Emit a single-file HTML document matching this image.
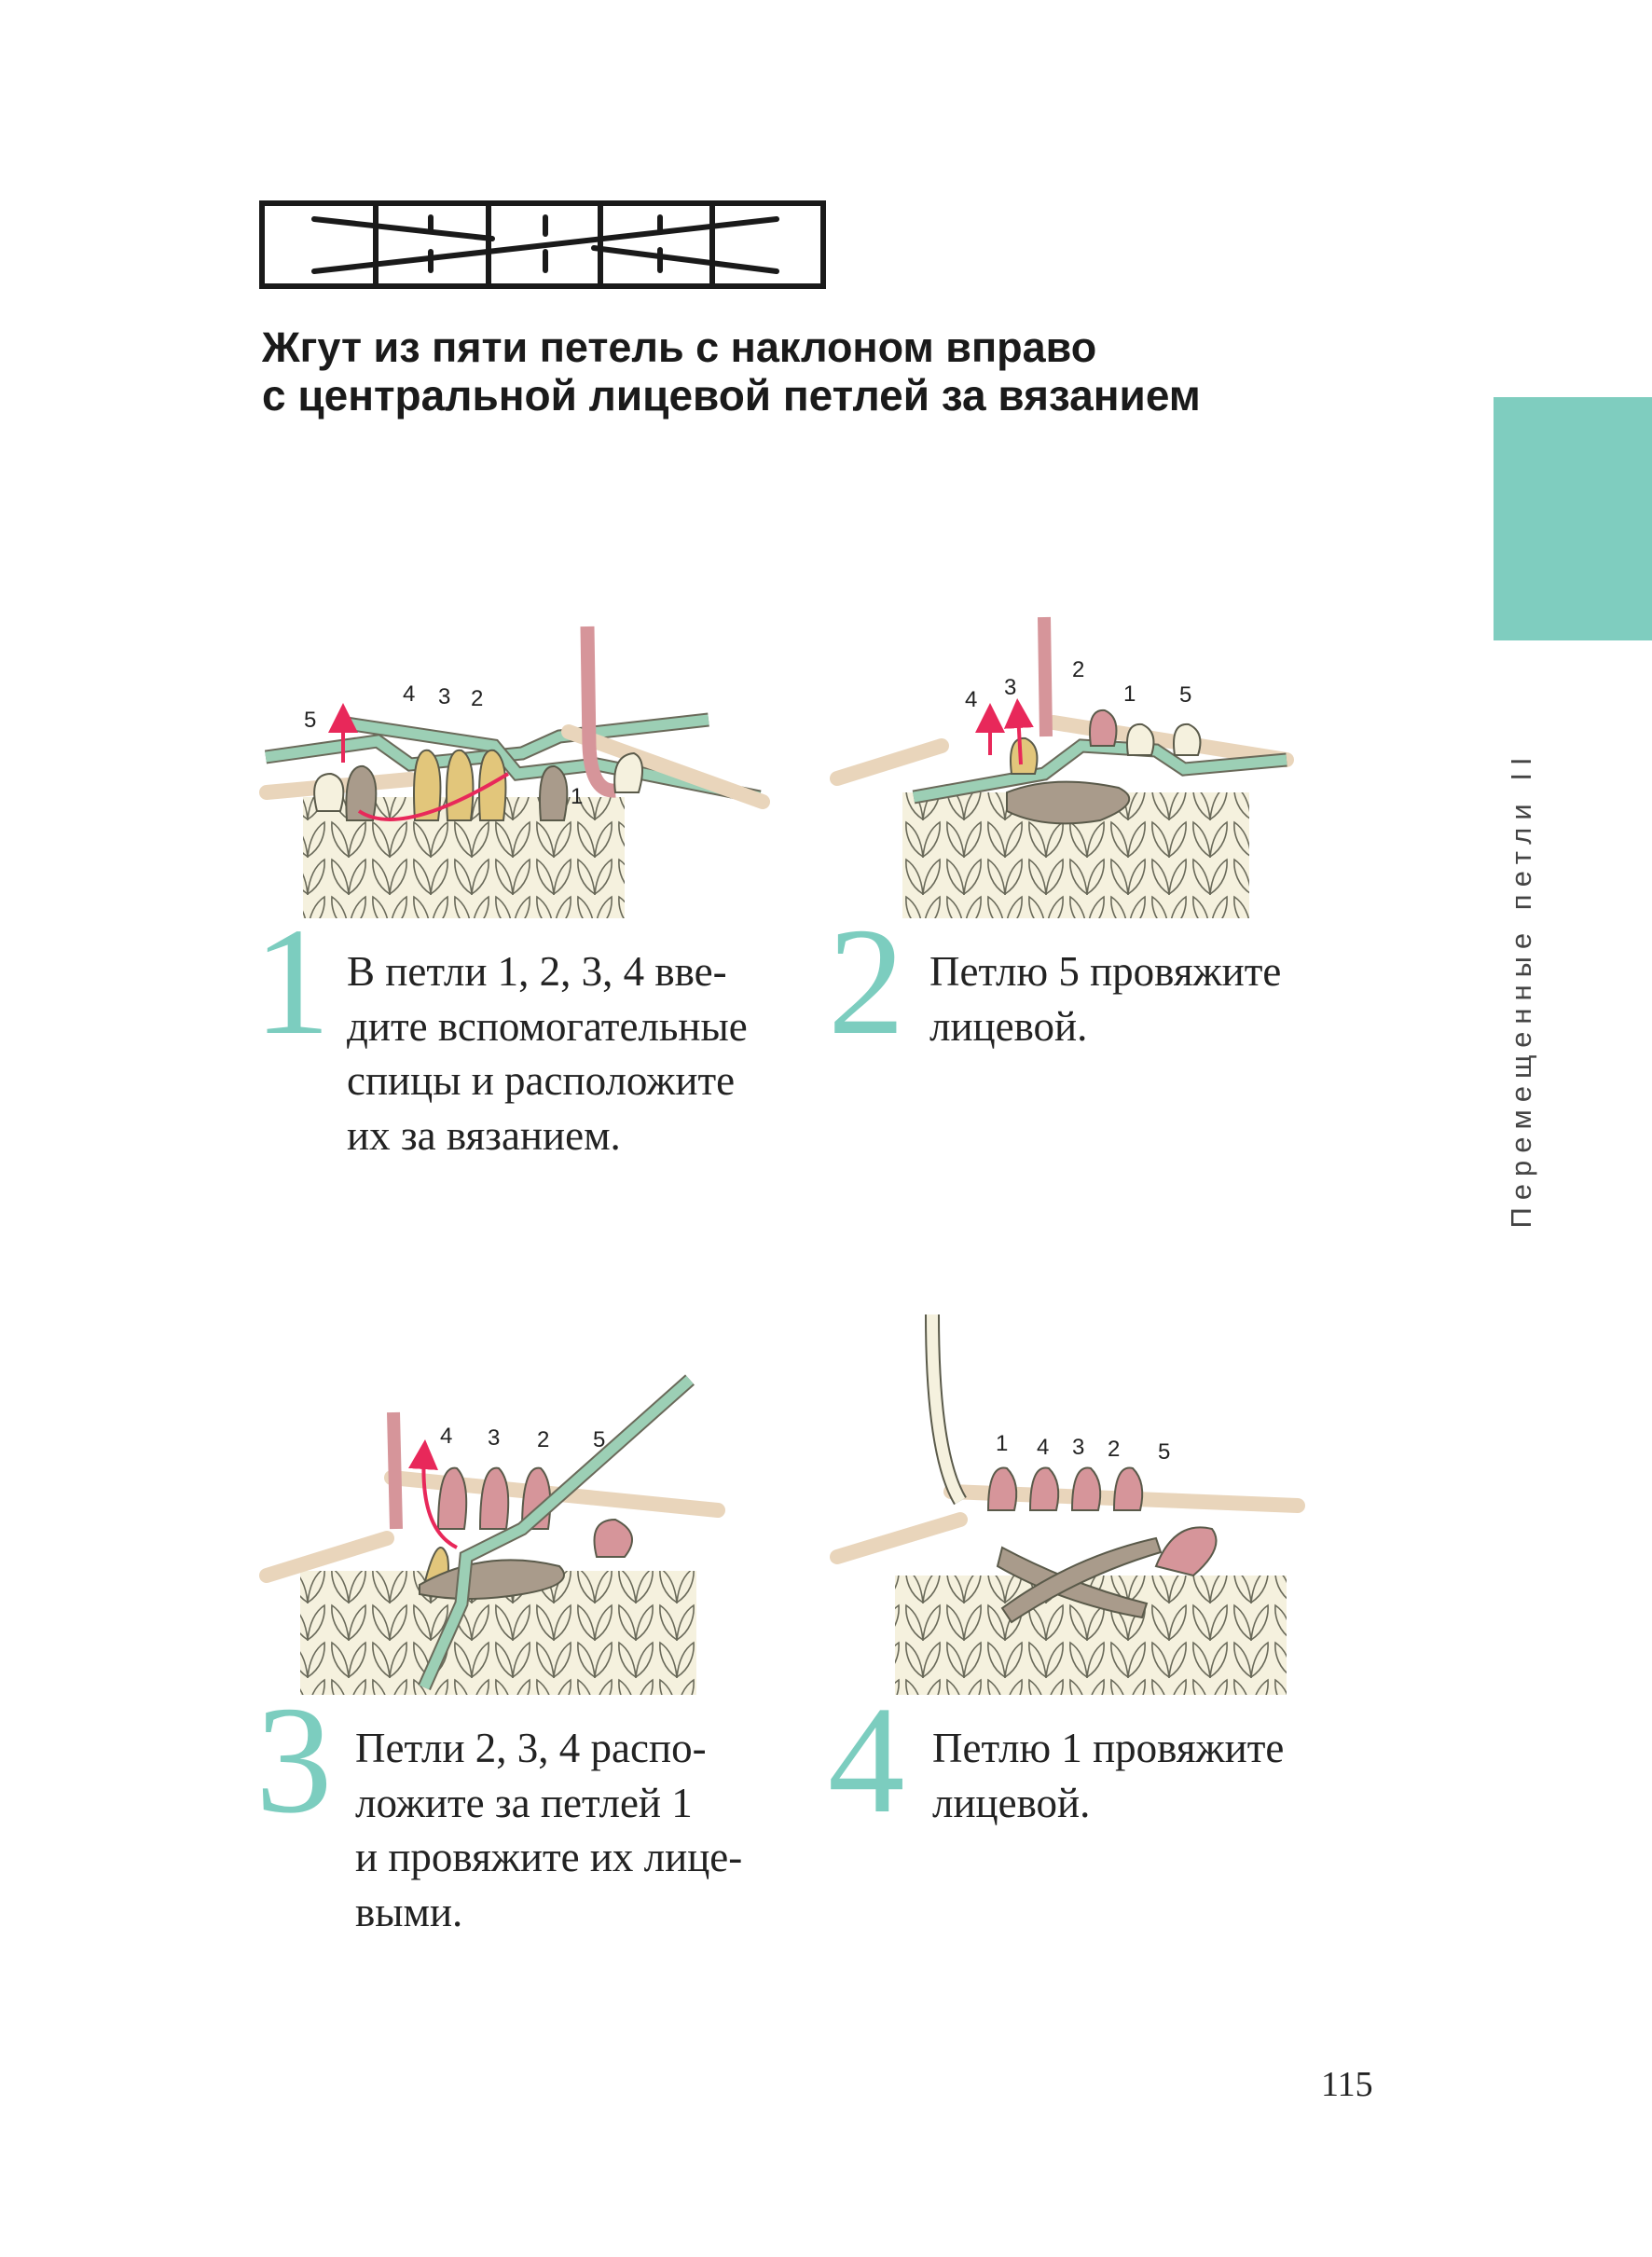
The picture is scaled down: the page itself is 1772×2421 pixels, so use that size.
<!DOCTYPE html>
<html><head><meta charset="utf-8"><style>
html,body{margin:0;padding:0;background:#fff}
body{width:1772px;height:2421px;position:relative;overflow:hidden}
.t{position:absolute;white-space:nowrap}
.title{font-family:"Liberation Sans",sans-serif;font-weight:bold;font-size:45px;color:#1a1a1a;left:281px;line-height:52px}
.body{font-family:"Liberation Serif",serif;font-size:45px;color:#222;line-height:58.6px}
.num{font-family:"Liberation Serif",serif;font-size:165px;color:#7ccdbf;line-height:165px}
.side{font-family:"Liberation Sans",sans-serif;font-size:31px;color:#444;letter-spacing:8px;transform:rotate(-90deg);transform-origin:center;}
svg{position:absolute;left:0;top:0}
</style></head><body>
<svg width="1772" height="2421" viewBox="0 0 1772 2421">
<defs>
<pattern id="knit" width="44" height="40" patternUnits="userSpaceOnUse">
<rect width="44" height="40" fill="#f5f1de"/>
<path d="M22 39 C8 30 3 15 4 2 C13 8 20 20 22 39Z" fill="#f5f1de" stroke="#6a6a5a" stroke-width="1.6"/>
<path d="M22 39 C36 30 41 15 40 2 C31 8 24 20 22 39Z" fill="#f5f1de" stroke="#6a6a5a" stroke-width="1.6"/>
</pattern>
<marker id="ar" markerWidth="8" markerHeight="8" refX="4" refY="4" orient="auto"><path d="M0 0L8 4L0 8Z" fill="#e8285a"/></marker>
</defs>
<g stroke="#1a1a1a" stroke-width="6" fill="none" stroke-linecap="round">
<rect x="281" y="218" width="602" height="89" stroke-linecap="butt"/>
<line x1="403" y1="218" x2="403" y2="307"/><line x1="524" y1="218" x2="524" y2="307"/>
<line x1="644" y1="218" x2="644" y2="307"/><line x1="764" y1="218" x2="764" y2="307"/>
<line x1="337" y1="235" x2="528" y2="256"/>
<line x1="337" y1="291" x2="833" y2="235"/>
<line x1="637" y1="266" x2="833" y2="291"/>
<line x1="462" y1="233" x2="462" y2="247"/><line x1="462" y1="270" x2="462" y2="290"/>
<line x1="585" y1="233" x2="585" y2="251"/><line x1="585" y1="270" x2="585" y2="290"/>
<line x1="708" y1="233" x2="708" y2="249"/><line x1="708" y1="268" x2="708" y2="290"/>
</g>
<rect x="1602" y="426" width="170" height="261" fill="#7fcdbf"/>

<g>
<rect x="325" y="855" width="345" height="130" fill="url(#knit)"/>
<line x1="286" y1="850" x2="440" y2="836" stroke="#e9d5bb" stroke-width="16" stroke-linecap="round"/>
<path d="M285 812 L405 795 L440 820 L560 808 L600 790 L760 772" fill="none" stroke="#6a6a5a" stroke-width="15"/>
<path d="M285 812 L405 795 L440 820 L560 808 L600 790 L760 772" fill="none" stroke="#9ccfb5" stroke-width="11"/>
<path d="M365 775 L530 800 L555 830 L640 820 L815 855" fill="none" stroke="#6a6a5a" stroke-width="15"/>
<path d="M365 775 L530 800 L555 830 L640 820 L815 855" fill="none" stroke="#9ccfb5" stroke-width="11"/>
<line x1="610" y1="785" x2="818" y2="860" stroke="#e9d5bb" stroke-width="16" stroke-linecap="round"/>
<path d="M630 672 L632 800 Q634 850 660 848" fill="none" stroke="#d6959a" stroke-width="15"/>
<g stroke="#5a5a4a" stroke-width="2">
<path d="M372 880 Q368 820 390 822 Q410 830 400 880Z" fill="#a99b8b"/>
<path d="M580 880 Q575 820 595 822 Q615 830 605 880Z" fill="#a99b8b"/>
<path d="M445 880 Q440 800 460 805 Q478 815 470 880Z" fill="#e2c67b"/>
<path d="M480 880 Q475 800 495 805 Q513 815 505 880Z" fill="#e2c67b"/>
<path d="M515 880 Q510 800 530 805 Q548 815 540 880Z" fill="#e2c67b"/>
<path d="M340 870 Q330 830 355 830 Q375 835 365 870Z" fill="#f5f1de"/>
<path d="M660 850 Q655 810 680 808 Q695 815 685 850Z" fill="#f5f1de"/>
</g>
<path d="M385 870 Q430 900 545 830" fill="none" stroke="#e8285a" stroke-width="4"/>
<path d="M368 818 L368 770" stroke="#e8285a" stroke-width="4" marker-end="url(#ar)"/>
<g font-family="Liberation Sans,sans-serif" font-size="24" fill="#222"><text x="326" y="780">5</text><text x="432" y="752">4</text><text x="470" y="755">3</text><text x="505" y="757">2</text><text x="612" y="862">1</text></g>
</g>

<g>
<rect x="968" y="850" width="372" height="135" fill="url(#knit)"/>
<line x1="898" y1="835" x2="1010" y2="800" stroke="#e9d5bb" stroke-width="16" stroke-linecap="round"/>
<line x1="1130" y1="775" x2="1380" y2="815" stroke="#e9d5bb" stroke-width="16" stroke-linecap="round"/>
<path d="M980 855 L1120 830 L1160 800 L1240 805 L1270 825 L1380 815" fill="none" stroke="#6a6a5a" stroke-width="15"/>
<path d="M980 855 L1120 830 L1160 800 L1240 805 L1270 825 L1380 815" fill="none" stroke="#9ccfb5" stroke-width="11"/>
<path d="M1120 662 L1122 790" stroke="#d6959a" stroke-width="14" fill="none"/>
<g stroke="#5a5a4a" stroke-width="2">
<path d="M1080 850 Q1130 830 1200 845 Q1230 860 1180 880 Q1120 890 1080 870Z" fill="#a99b8b"/>
<path d="M1085 830 Q1080 790 1100 792 Q1118 800 1110 830Z" fill="#e2c67b"/>
<path d="M1170 800 Q1165 760 1185 762 Q1203 770 1195 800Z" fill="#d6959a"/>
<path d="M1210 810 Q1205 775 1225 777 Q1243 785 1235 810Z" fill="#f5f1de"/>
<path d="M1260 810 Q1255 775 1275 777 Q1293 785 1285 810Z" fill="#f5f1de"/>
</g>
<path d="M1062 810 L1062 770" stroke="#e8285a" stroke-width="4" marker-end="url(#ar)"/>
<path d="M1095 820 L1092 765" stroke="#e8285a" stroke-width="4" marker-end="url(#ar)"/>
<g font-family="Liberation Sans,sans-serif" font-size="24" fill="#222"><text x="1035" y="758">4</text><text x="1077" y="745">3</text><text x="1150" y="726">2</text><text x="1205" y="752">1</text><text x="1265" y="753">5</text></g>
</g>

<g>
<rect x="322" y="1685" width="425" height="133" fill="url(#knit)"/>
<line x1="286" y1="1690" x2="415" y2="1650" stroke="#e9d5bb" stroke-width="16" stroke-linecap="round"/>
<line x1="420" y1="1585" x2="770" y2="1620" stroke="#e9d5bb" stroke-width="16" stroke-linecap="round"/>
<path d="M422 1515 L425 1640" stroke="#d6959a" stroke-width="14" fill="none"/>
<g stroke="#5a5a4a" stroke-width="2">
<path d="M470 1640 Q470 1570 490 1575 Q505 1590 498 1640Z" fill="#d6959a"/>
<path d="M515 1640 Q515 1570 535 1575 Q550 1590 543 1640Z" fill="#d6959a"/>
<path d="M560 1640 Q560 1570 580 1575 Q595 1590 588 1640Z" fill="#d6959a"/>
<path d="M640 1670 Q630 1630 660 1630 Q690 1645 670 1670Z" fill="#d6959a"/>
<path d="M455 1700 Q470 1640 480 1670 Q485 1700 465 1710Z" fill="#e2c67b"/>
<path d="M450 1700 Q520 1660 600 1680 Q620 1700 560 1710 Q500 1720 450 1710Z" fill="#a99b8b"/>
</g>
<path d="M455 1810 L495 1720 L500 1670 L560 1640 L740 1480" fill="none" stroke="#6a6a5a" stroke-width="15"/>
<path d="M455 1810 L495 1720 L500 1670 L560 1640 L740 1480" fill="none" stroke="#9ccfb5" stroke-width="11"/>
<path d="M490 1660 Q450 1640 455 1560" fill="none" stroke="#e8285a" stroke-width="4" marker-end="url(#ar)"/>
<g font-family="Liberation Sans,sans-serif" font-size="24" fill="#222"><text x="472" y="1548">4</text><text x="523" y="1550">3</text><text x="576" y="1552">2</text><text x="636" y="1552">5</text></g>
</g>

<g>
<rect x="960" y="1690" width="420" height="128" fill="url(#knit)"/>
<line x1="898" y1="1670" x2="1030" y2="1630" stroke="#e9d5bb" stroke-width="16" stroke-linecap="round"/>
<line x1="1020" y1="1600" x2="1392" y2="1615" stroke="#e9d5bb" stroke-width="16" stroke-linecap="round"/>
<path d="M1000 1410 Q1000 1560 1030 1610" fill="none" stroke="#5a5a4a" stroke-width="16"/>
<path d="M1000 1410 Q1000 1560 1030 1610" fill="none" stroke="#f5f1de" stroke-width="12"/>
<g stroke="#5a5a4a" stroke-width="2">
<path d="M1060 1620 Q1060 1570 1080 1575 Q1095 1590 1088 1620Z" fill="#d6959a"/>
<path d="M1105 1620 Q1105 1570 1125 1575 Q1140 1590 1133 1620Z" fill="#d6959a"/>
<path d="M1150 1620 Q1150 1570 1170 1575 Q1185 1590 1178 1620Z" fill="#d6959a"/>
<path d="M1195 1620 Q1195 1570 1215 1575 Q1230 1590 1223 1620Z" fill="#d6959a"/>
<path d="M1240 1680 Q1260 1630 1300 1640 Q1315 1660 1280 1690Z" fill="#d6959a"/>
<path d="M1075 1660 Q1150 1700 1230 1720 L1225 1735 Q1140 1720 1070 1680Z" fill="#a99b8b"/>
<path d="M1075 1725 Q1150 1670 1240 1650 L1245 1665 Q1160 1690 1085 1740Z" fill="#a99b8b"/>
</g>
<g font-family="Liberation Sans,sans-serif" font-size="24" fill="#222"><text x="1068" y="1556">1</text><text x="1112" y="1560">4</text><text x="1150" y="1560">3</text><text x="1188" y="1562">2</text><text x="1242" y="1565">5</text></g>
</g>
</svg>

<div class="t title" style="top:347px">Жгут из пяти петель с наклоном вправо</div>
<div class="t title" style="top:398px;font-size:46px">с центральной лицевой петлей за вязанием</div>

<div class="t side" style="left:1352px;top:1043px;width:560px;text-align:center">Перемещенные петли II</div>

<div class="t num" style="left:272px;top:970px">1</div>
<div class="t body" style="left:372px;top:1013px">В петли 1, 2, 3, 4 вве-<br>дите вспомогательные<br>спицы и расположите<br>их за вязанием.</div>

<div class="t num" style="left:888px;top:970px">2</div>
<div class="t body" style="left:997px;top:1013px">Петлю 5 провяжите<br>лицевой.</div>

<div class="t num" style="left:274px;top:1805px">3</div>
<div class="t body" style="left:381px;top:1846px">Петли 2, 3, 4 распо-<br>ложите за петлей 1<br>и провяжите их лице-<br>выми.</div>

<div class="t num" style="left:888px;top:1805px">4</div>
<div class="t body" style="left:1000px;top:1846px">Петлю 1 провяжите<br>лицевой.</div>

<div class="t body" style="left:1417px;top:2207px;font-size:38px">115</div>
</body></html>
